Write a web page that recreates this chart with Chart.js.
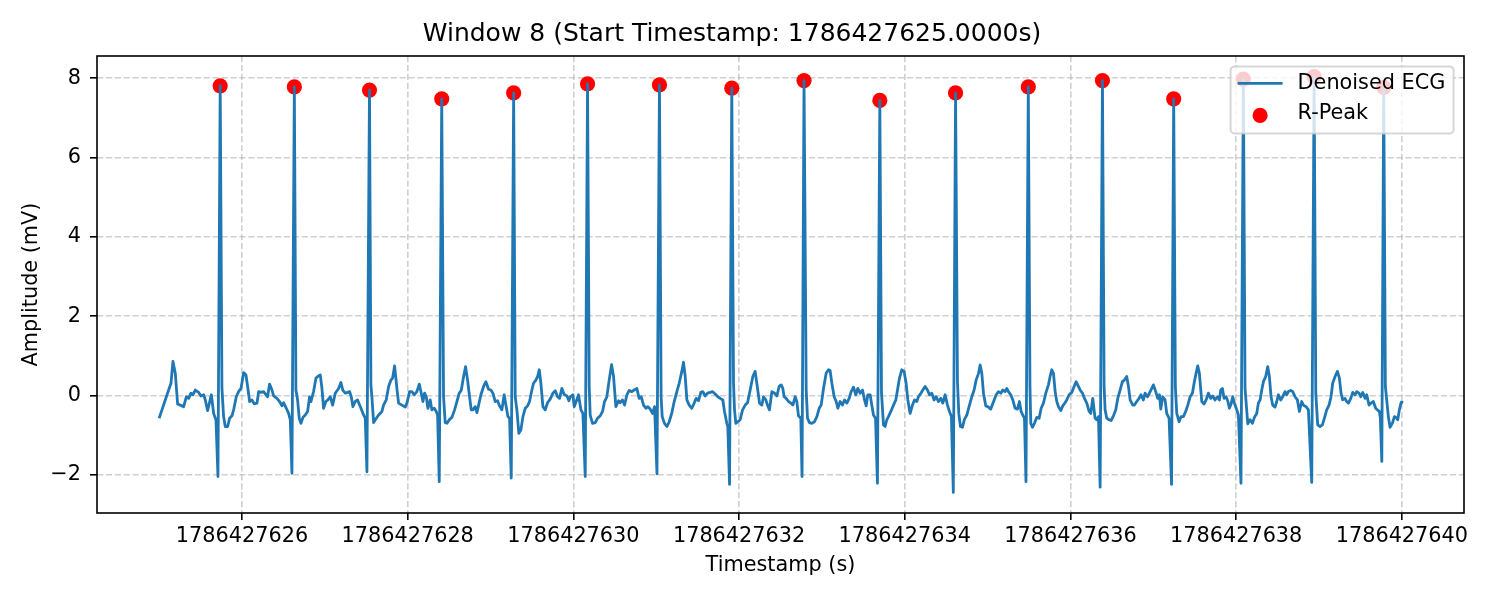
<!DOCTYPE html>
<html>
<head>
<meta charset="utf-8">
<script src="https://cdn.jsdelivr.net/npm/chart.js@4.4.1/dist/chart.umd.min.js"></script>
<style>
  html, body { margin: 0; padding: 0; background: #fff; }
  canvas { display: block; }
</style>
</head>
<body>
<canvas id="ecgChart" width="1500" height="600"></canvas>
<script>
// Datos de la ventana (offsets en segundos desde startTime, amplitud en mV)
const startTime = 1786427625;
const windowTitle = 'Window 8 (Start Timestamp: 1786427625.0000s)';

const ecgOffsets = [
  0.000,0.034,0.074,0.115,0.143,0.167,0.195,0.223,0.276,0.296,
  0.328,0.356,0.384,0.408,0.436,0.477,0.505,0.537,0.557,0.585,
  0.630,0.658,0.686,0.710,0.737,0.758,0.778,0.798,0.827,0.851,
  0.879,0.899,0.931,0.959,0.988,1.020,1.048,1.068,1.092,1.120,
  1.148,1.181,1.201,1.229,1.261,1.289,1.309,1.333,1.362,1.382,
  1.422,1.454,1.482,1.502,1.535,1.563,1.583,1.603,1.632,1.651,
  1.671,1.691,1.712,1.736,1.764,1.792,1.816,1.832,1.864,1.893,
  1.925,1.945,1.965,1.985,2.013,2.037,2.066,2.094,2.126,2.166,
  2.194,2.218,2.247,2.275,2.299,2.319,2.339,2.367,2.395,2.420,
  2.468,2.488,2.508,2.539,2.556,2.568,2.589,2.609,2.649,2.689,
  2.709,2.741,2.770,2.798,2.818,2.842,2.870,2.890,2.930,2.971,
  2.991,3.023,3.051,3.079,3.111,3.140,3.164,3.184,3.204,3.224,
  3.244,3.272,3.292,3.321,3.345,3.361,3.381,3.411,3.433,3.453,
  3.474,3.506,3.534,3.566,3.594,3.622,3.646,3.675,3.699,3.723,
  3.747,3.767,3.787,3.815,3.836,3.856,3.884,3.916,3.944,3.976,
  4.004,4.029,4.057,4.085,4.109,4.137,4.165,4.189,4.210,4.230,
  4.250,4.279,4.298,4.318,4.342,4.366,4.391,4.419,4.447,4.471,
  4.499,4.519,4.547,4.568,4.588,4.608,4.632,4.660,4.688,4.720,
  4.753,4.781,4.809,4.833,4.861,4.889,4.922,4.946,4.962,4.994,
  5.010,5.034,5.062,5.091,5.115,5.143,5.171,5.191,5.203,5.231,
  5.264,5.292,5.324,5.352,5.376,5.404,5.432,5.461,5.485,5.513,
  5.545,5.565,5.593,5.618,5.646,5.674,5.706,5.734,5.766,5.794,
  5.819,5.847,5.875,5.899,5.927,5.955,5.980,6.009,6.039,6.059,
  6.072,6.100,6.128,6.157,6.189,6.217,6.249,6.277,6.309,6.329,
  6.350,6.370,6.398,6.430,6.458,6.482,6.511,6.539,6.563,6.591,
  6.619,6.651,6.679,6.712,6.744,6.772,6.804,6.824,6.852,6.864,
  6.885,6.912,6.933,6.945,6.961,6.985,7.013,7.042,7.074,7.102,
  7.134,7.166,7.194,7.223,7.247,7.275,7.295,7.323,7.343,7.367,
  7.396,7.428,7.456,7.484,7.508,7.528,7.544,7.568,7.597,7.625,
  7.649,7.677,7.697,7.717,7.745,7.760,7.784,7.810,7.826,7.850,
  7.878,7.910,7.939,7.967,7.991,8.019,8.051,8.079,8.099,8.120,
  8.148,8.172,8.192,8.220,8.248,8.272,8.301,8.329,8.353,8.381,
  8.409,8.433,8.461,8.490,8.514,8.534,8.554,8.582,8.602,8.622,
  8.647,8.670,8.699,8.719,8.743,8.763,8.783,8.803,8.832,8.864,
  8.892,8.912,8.936,8.964,8.992,9.016,9.037,9.065,9.093,9.117,
  9.145,9.165,9.194,9.218,9.246,9.274,9.298,9.326,9.354,9.379,
  9.407,9.435,9.459,9.487,9.515,9.539,9.563,9.586,9.613,9.636,
  9.652,9.672,9.696,9.720,9.749,9.781,9.809,9.837,9.861,9.890,
  9.910,9.930,9.950,9.978,10.010,10.038,10.079,10.103,10.131,10.159,
  10.183,10.211,10.231,10.251,10.280,10.304,10.332,10.360,10.384,10.404,
  10.424,10.445,10.463,10.491,10.511,10.521,10.541,10.565,10.593,10.622,
  10.646,10.674,10.702,10.734,10.754,10.774,10.795,10.815,10.835,10.855,
  10.883,10.907,10.935,10.955,10.984,11.016,11.044,11.068,11.096,11.116,
  11.145,11.169,11.197,11.225,11.245,11.269,11.297,11.317,11.338,11.358,
  11.386,11.406,11.418,11.438,11.466,11.490,11.519,11.547,11.571,11.599,
  11.627,11.651,11.679,11.700,11.720,11.752,11.772,11.800,11.828,11.852,
  11.880,11.901,11.929,11.953,11.981,12.001,12.029,12.053,12.074,12.090,
  12.114,12.142,12.162,12.190,12.220,12.246,12.266,12.283,12.311,12.335,
  12.363,12.391,12.416,12.444,12.472,12.492,12.516,12.536,12.556,12.585,
  12.613,12.637,12.665,12.693,12.717,12.745,12.774,12.798,12.814,12.834,
  12.854,12.878,12.898,12.918,12.939,12.959,12.979,13.007,13.027,13.058,
  13.087,13.107,13.140,13.168,13.196,13.220,13.248,13.268,13.289,13.309,
  13.329,13.357,13.381,13.401,13.421,13.441,13.469,13.490,13.510,13.538,
  13.562,13.590,13.610,13.630,13.659,13.683,13.711,13.739,13.763,13.791,
  13.811,13.844,13.872,13.912,13.941,13.961,13.984,14.012,14.041,14.065,
  14.093,14.121,14.145,14.165,14.194,14.222,14.246,14.266,14.286,14.314,
  14.334,14.355,14.383,14.407,14.435,14.455,14.483,14.503,14.528,14.556,
  14.576,14.604,14.628,14.656,14.684,14.704,14.728,14.740,14.758,14.781,
  14.801,14.837,14.857,14.885,14.910,14.930,14.950,14.970,14.990,15.000
];

const ecgValues = [
  -0.57,-0.36,-0.11,0.14,0.31,0.86,0.56,-0.21,-0.26,-0.28,
  -0.03,-0.07,0.06,0.02,0.14,0.08,-0.01,0.02,-0.11,-0.38,
  0.02,-0.45,-0.61,-2.04,7.81,0.18,-0.53,-0.78,-0.78,-0.57,
  -0.51,-0.36,-0.03,0.10,0.18,0.58,0.52,0.23,-0.15,-0.11,
  -0.21,-0.19,0.10,0.08,0.10,0.02,-0.03,0.29,0.14,-0.01,
  -0.07,-0.15,-0.26,-0.18,-0.32,-0.45,-0.61,-1.96,7.78,0.14,
  -0.11,-0.57,-0.70,-0.55,-0.49,-0.40,-0.03,-0.15,0.10,0.44,
  0.50,0.52,0.18,-0.32,-0.15,-0.11,-0.03,-0.24,0.06,0.18,
  0.33,0.13,0.06,0.08,0.10,-0.03,-0.28,-0.15,-0.11,-0.24,
  -0.49,-0.57,-1.92,7.70,0.27,-0.03,-0.68,-0.61,-0.49,-0.40,
  -0.24,-0.11,0.23,0.39,0.44,0.75,0.18,-0.19,-0.24,-0.29,
  -0.19,0.10,0.10,0.02,0.10,0.29,0.06,-0.15,0.06,-0.03,
  -0.32,-0.11,-0.36,-0.32,-0.40,-0.49,-2.17,7.48,-0.03,-0.68,
  -0.70,-0.60,-0.55,-0.36,-0.15,0.06,0.13,0.48,0.73,0.39,
  -0.03,-0.36,-0.36,-0.28,-0.43,-0.24,0.02,0.23,0.35,0.16,
  0.14,0.06,-0.15,-0.13,-0.26,-0.36,0.02,-0.28,-0.53,-0.57,
  -2.08,7.63,-0.03,-0.36,-0.95,-0.87,-0.53,-0.32,-0.26,-0.15,
  0.14,0.31,0.39,0.48,0.65,0.31,-0.28,-0.36,-0.18,-0.09,
  0.06,0.12,-0.03,-0.07,0.18,0.03,-0.01,-0.13,-0.03,0.02,
  -0.28,-0.15,0.02,-0.36,-0.45,-2.04,7.86,0.23,-0.49,-0.70,
  -0.68,-0.57,-0.51,-0.40,-0.15,-0.03,0.39,0.78,0.48,-0.28,
  -0.13,-0.18,-0.11,-0.24,0.02,0.13,0.10,0.14,0.18,-0.07,
  -0.03,-0.24,-0.32,-0.28,-0.34,-0.45,-0.28,-1.97,7.83,-0.03,
  -0.53,-0.70,-0.78,-0.66,-0.43,-0.15,0.10,0.31,0.61,0.84,
  0.48,-0.11,-0.24,-0.32,-0.19,-0.07,-0.13,0.08,0.10,-0.01,
  0.06,0.08,0.10,0.04,-0.03,-0.07,-0.11,-0.40,-0.70,-0.78,
  -2.24,7.75,0.31,-0.36,-0.70,-0.66,-0.61,-0.36,-0.24,-0.18,
  0.14,0.48,0.61,0.18,-0.19,-0.24,-0.03,-0.11,-0.24,-0.36,
  0.10,0.06,-0.01,0.23,0.27,0.18,-0.03,-0.07,-0.15,-0.19,
  -0.24,-0.03,-0.15,-0.51,-0.57,-2.04,7.94,0.14,-0.57,-0.68,
  -0.70,-0.66,-0.53,-0.32,-0.24,0.18,0.56,0.65,0.63,0.31,
  -0.03,-0.15,-0.32,-0.15,-0.24,-0.11,-0.19,-0.07,0.10,0.21,
  0.02,0.18,0.06,0.14,-0.11,-0.26,0.02,0.02,-0.24,-0.49,
  -0.57,-2.21,7.44,0.06,-0.74,-0.78,-0.61,-0.53,-0.40,-0.24,
  -0.11,0.14,0.44,0.65,0.61,0.31,-0.11,-0.45,-0.24,-0.11,
  -0.15,-0.03,0.06,0.14,0.23,0.14,0.02,0.06,-0.11,-0.03,
  -0.15,-0.07,-0.19,0.02,-0.24,-0.40,-0.53,-2.44,7.63,0.35,
  -0.45,-0.78,-0.80,-0.60,-0.49,-0.24,-0.03,0.14,0.39,0.56,
  0.77,0.56,0.06,-0.26,-0.29,-0.34,-0.11,0.02,0.10,0.06,
  0.14,0.10,0.18,0.10,0.02,-0.11,-0.32,-0.34,-0.15,-0.40,
  -0.49,-0.57,-2.17,7.78,0.23,-0.70,-0.80,-0.70,-0.55,-0.57,
  -0.32,-0.19,0.06,0.27,0.48,0.65,0.56,0.10,-0.15,-0.28,
  -0.38,-0.26,-0.18,-0.11,0.02,0.08,0.23,0.35,0.23,0.14,
  0.06,-0.07,-0.19,-0.40,-0.45,-0.07,-0.57,-0.61,-0.53,-2.31,
  7.94,0.23,-0.36,-0.57,-0.61,-0.63,-0.51,-0.36,-0.07,0.14,
  0.35,0.39,0.48,0.23,-0.11,-0.24,-0.24,-0.15,-0.07,0.02,
  -0.11,0.06,-0.03,0.06,0.18,0.27,0.10,-0.07,0.02,-0.34,
  -0.03,-0.11,-0.45,-0.57,-2.24,7.48,0.23,-0.45,-0.66,-0.53,
  -0.53,-0.40,-0.24,-0.03,0.06,0.31,0.56,0.75,0.56,-0.15,
  -0.21,-0.11,0.06,-0.07,-0.01,-0.11,-0.03,-0.11,0.14,0.18,
  -0.07,-0.03,-0.13,-0.32,-0.21,-0.03,-0.19,-0.36,-0.49,-2.21,
  7.98,0.18,-0.71,-0.61,-0.70,-0.55,-0.45,-0.19,-0.11,0.14,
  0.35,0.48,0.73,0.48,-0.03,-0.24,-0.29,-0.15,0.02,-0.11,
  -0.03,0.10,0.02,0.10,0.13,0.10,-0.03,-0.11,-0.40,-0.15,
  -0.24,-0.28,-0.36,-2.19,8.04,0.06,-0.74,-0.78,-0.74,-0.57,
  -0.36,-0.24,-0.03,0.31,0.48,0.61,0.44,0.06,-0.11,-0.07,
  -0.15,-0.19,-0.07,0.08,0.02,0.10,0.06,-0.03,0.08,-0.07,
  0.02,-0.24,-0.19,-0.15,-0.32,-0.36,-0.40,-0.55,-1.66,7.77,
  0.23,-0.53,-0.80,-0.70,-0.53,-0.55,-0.61,-0.36,-0.18,-0.13
];

// Picos R detectados
const peakOffsets = [0.737, 1.632, 2.539, 3.411, 4.279, 5.171, 6.039, 6.912, 7.784,
                     8.699, 9.613, 10.491, 11.386, 12.246, 13.087, 13.941, 14.781];
const peakValues = [7.81, 7.78, 7.70, 7.48, 7.63, 7.86, 7.83, 7.75, 7.94,
                    7.44, 7.63, 7.78, 7.94, 7.48, 7.98, 8.04, 7.77];

// Marcas de los ejes
const xTicks = [1786427626, 1786427628, 1786427630, 1786427632, 1786427634, 1786427636, 1786427638, 1786427640];
const yTicks = [-2, 0, 2, 4, 6, 8];

const palette = {
  line: '#1f77b4',
  peak: '#ff0000',
  grid: 'rgba(176,176,176,0.6)',
  text: '#000000'
};

Chart.defaults.font.family = "'DejaVu Sans', sans-serif";
Chart.defaults.color = palette.text;

const ecgPoints = ecgOffsets.map((o, i) => ({ x: startTime + o, y: ecgValues[i] }));
const peakPoints = peakOffsets.map((o, i) => ({ x: startTime + o, y: peakValues[i] }));

const minusSign = v => String(v).replace('-', '\u2212');

// Marco de 4 lados alrededor del área del gráfico
const frame = {
  id: 'frame',
  afterDatasetsDraw(chart) {
    const { ctx, chartArea: a } = chart;
    ctx.save();
    ctx.strokeStyle = '#000';
    ctx.lineWidth = 1.6;
    ctx.strokeRect(a.left, a.top, a.right - a.left, a.bottom - a.top);
    ctx.restore();
  }
};

// Leyenda semitransparente arriba a la derecha, dentro del área
const boxLegend = {
  id: 'boxLegend',
  afterDraw(chart) {
    const { ctx, chartArea: a } = chart;
    const w = 223, h = 67;
    const x = a.right - 10.4 - w;
    const y = a.top + 10.4;
    ctx.save();
    ctx.beginPath();
    ctx.roundRect(x, y, w, h, 4);
    ctx.fillStyle = 'rgba(255,255,255,0.8)';
    ctx.fill();
    ctx.strokeStyle = 'rgba(204,204,204,0.8)';
    ctx.lineWidth = 2;
    ctx.stroke();

    ctx.font = "20.8px 'DejaVu Sans', sans-serif";
    ctx.textBaseline = 'middle';
    ctx.textAlign = 'left';
    chart.data.datasets.forEach((ds, i) => {
      const cy = y + 17 + i * 30;
      if (ds.showLine) {
        ctx.beginPath();
        ctx.moveTo(x + 7, cy);
        ctx.lineTo(x + 52, cy);
        ctx.strokeStyle = ds.borderColor;
        ctx.lineWidth = ds.borderWidth;
        ctx.stroke();
      } else {
        ctx.beginPath();
        ctx.arc(x + 29.5, cy + 2, ds.pointRadius, 0, Math.PI * 2);
        ctx.fillStyle = ds.backgroundColor;
        ctx.fill();
      }
      ctx.fillStyle = palette.text;
      ctx.fillText(ds.label, x + 67, cy);
    });
    ctx.restore();
  }
};

new Chart(document.getElementById('ecgChart'), {
  type: 'scatter',
  data: {
    datasets: [
      {
        label: 'Denoised ECG',
        data: ecgPoints,
        showLine: true,
        borderColor: palette.line,
        backgroundColor: palette.line,
        borderWidth: 2.8,
        borderJoinStyle: 'round',
        pointRadius: 0,
        tension: 0,
        order: 0
      },
      {
        label: 'R-Peak',
        data: peakPoints,
        showLine: false,
        backgroundColor: palette.peak,
        borderWidth: 0,
        pointRadius: 7.6,
        order: 1
      }
    ]
  },
  options: {
    responsive: false,
    devicePixelRatio: 1,
    animation: false,
    events: [],
    layout: { padding: { left: 0, right: 36, top: 0, bottom: 0 } },
    plugins: {
      legend: { display: false },
      tooltip: { enabled: false },
      title: {
        display: true,
        text: windowTitle,
        font: { size: 25, weight: 'normal' },
        padding: { top: 19, bottom: 7 }
      }
    },
    scales: {
      x: {
        type: 'linear',
        min: startTime - 0.75,
        max: startTime + 15.75,
        afterBuildTicks: scale => { scale.ticks = xTicks.map(v => ({ value: v })); },
        afterFit: scale => { scale.height = 87; },
        ticks: { autoSkip: false, maxRotation: 0, minRotation: 0, padding: 4, font: { size: 20.8 }, callback: v => String(v) },
        grid: { color: palette.grid, lineWidth: 1.6, tickLength: 7, tickColor: '#000', tickWidth: 1.6, tickBorderDash: [] },
        border: { display: false, dash: [6.2, 2.7] },
        title: { display: true, text: 'Timestamp (s)', font: { size: 20.8 }, padding: { top: 0, bottom: 22 } }
      },
      y: {
        type: 'linear',
        min: -2.96,
        max: 8.56,
        afterBuildTicks: scale => { scale.ticks = yTicks.map(v => ({ value: v })); },
        afterFit: scale => { scale.width = 97; },
        ticks: { padding: 9, font: { size: 20.8 }, callback: v => minusSign(v) },
        grid: { color: palette.grid, lineWidth: 1.6, tickLength: 7, tickColor: '#000', tickWidth: 1.6, tickBorderDash: [] },
        border: { display: false, dash: [6.2, 2.7] },
        title: { display: true, text: 'Amplitude (mV)', font: { size: 20.8 }, padding: { top: 19, bottom: 0 } }
      }
    }
  },
  plugins: [frame, boxLegend]
});
</script>
</body>
</html>
